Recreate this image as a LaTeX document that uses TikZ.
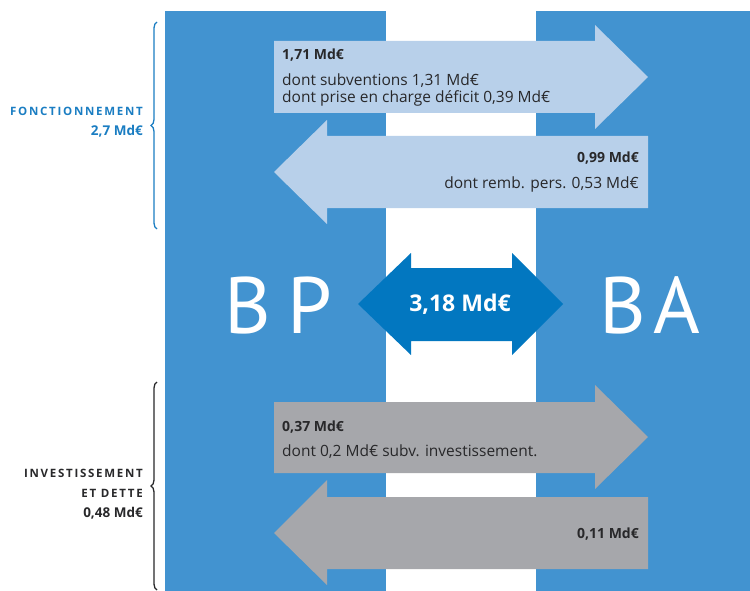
\documentclass[tikz,border=0pt]{standalone}
\usepackage{fontspec}
\setmainfont{Open Sans}
\newfontfamily\namefont{PT Sans}
\usepackage{tikz}
\usetikzlibrary{decorations.pathreplacing}
\definecolor{budgetblue}{RGB}{66, 147, 208}
\definecolor{flowlight}{RGB}{184, 208, 234}
\definecolor{flowgray}{RGB}{166, 167, 171}
\definecolor{transferblue}{RGB}{2, 119, 192}
\definecolor{labelblue}{RGB}{26, 125, 194}
\definecolor{textdark}{RGB}{40, 40, 42}

\begin{document}
\begin{tikzpicture}[x=1pt, y=-1pt,
    amount/.style={font=\fontsize{14}{17}\selectfont\bfseries, text=textdark, inner sep=0pt},
    detail/.style={font=\fontsize{15.5}{17}\selectfont, text=textdark, inner sep=0pt},
    budgetname/.style={font=\namefont\fontsize{80}{80}\selectfont, text=white, inner sep=0pt},
    sidelabel/.style={font=\fontsize{11.5}{14}\selectfont\bfseries\addfontfeature{LetterSpace=15}, inner sep=0pt, anchor=base east},
    sidesum/.style={font=\fontsize{13.5}{14}\selectfont\bfseries, inner sep=0pt, anchor=base east},
    sidebrace/.style={decorate, decoration={brace, amplitude=6pt}, line width=1.3pt}]
    \useasboundingbox (0,0) rectangle (750,591);

    % the two budgets
    \fill[budgetblue] (165,11) rectangle (386,591);
    \fill[budgetblue] (536,11) rectangle (750,591);

    % fonctionnement flows
    \fill[flowlight] (274,41) -- (595,41) -- (595,25) -- (648,77) -- (595,129) -- (595,113) -- (274,113) -- cycle;
    \fill[flowlight] (648,136) -- (327,136) -- (327,120) -- (274,172) -- (327,224) -- (327,208) -- (648,208) -- cycle;
    % investissement flows
    \fill[flowgray] (274,402) -- (595,402) -- (595,385) -- (648,437) -- (595,489) -- (595,473) -- (274,473) -- cycle;
    \fill[flowgray] (648,497) -- (327,497) -- (327,480) -- (274,533) -- (327,585) -- (327,569) -- (648,569) -- cycle;
    % total
    \fill[transferblue] (358,304) -- (411,253) -- (411,268) -- (512,268) -- (512,253) -- (563,304)
        -- (512,355) -- (512,341) -- (411,341) -- (411,355) -- cycle;

    \node[amount, anchor=base west] (fonctout) at (282,60) {1,71 Md€};
    \node[detail, anchor=base west] (fonctsub) at (282,86) {dont subventions 1,31 Md€};
    \node[detail, anchor=base west] (fonctdef) at (282,103) {dont prise en charge déficit 0,39 Md€};
    \node[amount, anchor=base east] (fonctin) at (639,163) {0,99 Md€};
    \node[detail, anchor=base east] (fonctremb) at (639,189) {dont remb. pers. 0,53 Md€};

    \node[amount, anchor=base west] (invout) at (282,431) {0,37 Md€};
    \node[detail, anchor=base west] (invsub) at (282,456) {dont 0,2 Md€ subv. investissement.};
    \node[amount, anchor=base east] (invin) at (639,538) {0,11 Md€};

    \node[font=\fontsize{23}{26}\selectfont\bfseries, text=white] (total) at (460,304) {3,18 Md€};

    \node[budgetname] (bp) at (278,305) {B\hspace{16pt}P};
    \node[budgetname] (ba) at (650,305) {B\hspace{8pt}A};

    % side labels and braces
    \node[sidelabel, text=labelblue] (fonct) at (143,116) {FONCTIONNEMENT};
    \node[sidesum, text=labelblue] (fonctsum) at (143,136) {2,7 Md€};
    \node[sidelabel, text=textdark] (inv) at (143,477) {INVESTISSEMENT};
    \node[sidelabel, text=textdark] (dette) at (143,497) {ET DETTE};
    \node[sidesum, text=textdark] (invsum) at (143,517) {0,48 Md€};

    \coordinate (fonctlow) at (157,229);
    \coordinate (foncthigh) at (157,22);
    \coordinate (invlow) at (157,590);
    \coordinate (invhigh) at (157,382);
    \draw[sidebrace, labelblue] (fonctlow) -- (foncthigh);
    \draw[sidebrace, textdark] (invlow) -- (invhigh);
\end{tikzpicture}
\end{document}
